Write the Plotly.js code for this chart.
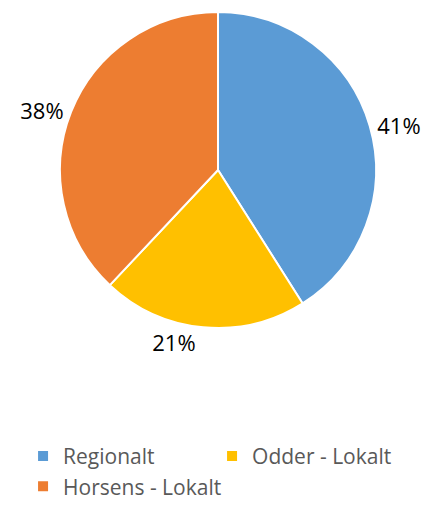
<!DOCTYPE html>
<html>
<head>
<meta charset="utf-8">
<script src="https://cdn.plot.ly/plotly-3.0.1.min.js"></script>
<style>html,body{margin:0;padding:0;background:#fff;}#chart{width:427px;height:508px;}</style>
</head>
<body>
<div id="chart"></div>
<script>
const labels = ["Regionalt", "Odder - Lokalt", "Horsens - Lokalt"];
const values = [41, 21, 38];
const colors = ["#5B9BD5", "#FFC000", "#ED7D31"];

const trace = {
  type: "pie",
  labels: labels,
  values: values,
  sort: false,
  direction: "clockwise",
  rotation: 0,
  marker: {colors: colors, line: {color: "#ffffff", width: 2}},
  textinfo: "percent",
  texttemplate: "%{percent:.0%}",
  textposition: "outside",
  outsidetextfont: {family: "Open Sans, sans-serif", size: 22, color: "#000000"},
  hoverinfo: "label+percent",
  domain: {x: [0.1405, 0.8806], y: [0.3543, 0.9764]}
};

const layout = {
  width: 427,
  height: 508,
  margin: {l: 0, r: 0, t: 0, b: 0},
  paper_bgcolor: "#ffffff",
  showlegend: true,
  legend: {
    orientation: "h",
    x: 0.054,
    xanchor: "left",
    y: 0.142,
    yanchor: "top",
    entrywidth: 144,
    entrywidthmode: "pixels",
    font: {family: "Open Sans, sans-serif", size: 21, color: "#595959"},
    traceorder: "normal"
  }
};

Plotly.newPlot("chart", [trace], layout, {displayModeBar: false});
</script>
</body>
</html>
